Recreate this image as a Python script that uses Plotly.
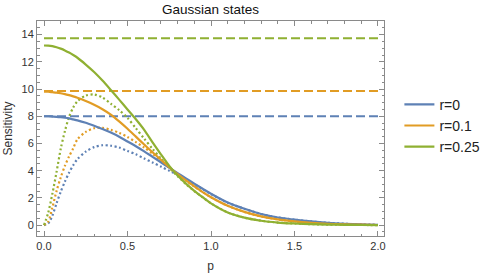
import plotly.graph_objects as go

p = [0, 0.025, 0.05, 0.075, 0.1, 0.125, 0.15, 0.175, 0.2, 0.25, 0.3, 0.35, 0.4, 0.45,
     0.5, 0.55, 0.6, 0.65, 0.7, 0.75, 0.8, 0.85, 0.9, 0.95, 1.0, 1.1, 1.2, 1.3, 1.4,
     1.5, 1.6, 1.7, 1.8, 1.9, 2.0]

solid_r0 = [8.0, 8.0, 7.98, 7.96, 7.93, 7.89, 7.84, 7.77, 7.7, 7.52, 7.3, 7.06, 6.8, 6.5,
            6.15, 5.8, 5.42, 5.02, 4.62, 4.22, 3.82, 3.43, 3.05, 2.67, 2.3, 1.66, 1.2, 0.82,
            0.56, 0.4, 0.27, 0.17, 0.1, 0.05, 0.02]
solid_r01 = [9.8, 9.8, 9.77, 9.74, 9.69, 9.63, 9.55, 9.46, 9.36, 9.12, 8.84, 8.52, 8.12, 7.62,
             7.08, 6.5, 5.92, 5.35, 4.8, 4.25, 3.75, 3.28, 2.85, 2.43, 2.05, 1.42, 0.97, 0.64,
             0.42, 0.27, 0.17, 0.1, 0.06, 0.03, 0.01]
solid_r025 = [13.2, 13.19, 13.15, 13.07, 12.97, 12.84, 12.68, 12.5, 12.3, 11.8, 11.25, 10.62,
              9.93, 9.22, 8.5, 7.78, 7.0, 6.08, 5.2, 4.35, 3.65, 3.05, 2.52, 2.05, 1.6, 0.93,
              0.55, 0.32, 0.19, 0.12, 0.07, 0.04, 0.02, 0.01, 0.0]

dotted_r0 = [0, 0.12, 0.7, 1.6, 2.45, 3.2, 3.85, 4.4, 4.85, 5.4, 5.73, 5.87, 5.83, 5.7,
             5.45, 5.2, 4.9, 4.6, 4.3, 4.0, 3.7, 3.35, 3.0, 2.64, 2.28, 1.65, 1.2, 0.82,
             0.56, 0.4, 0.27, 0.17, 0.1, 0.05, 0.02]
dotted_r01 = [0, 0.25, 1.3, 2.5, 3.5, 4.35, 5.05, 5.65, 6.3, 6.85, 7.12, 7.15, 7.0, 6.78,
              6.48, 6.1, 5.7, 5.25, 4.75, 4.22, 3.73, 3.27, 2.84, 2.43, 2.05, 1.42, 0.97,
              0.64, 0.42, 0.27, 0.17, 0.1, 0.06, 0.03, 0.01]
dotted_r025 = [0, 0.9, 2.3, 3.9, 5.6, 6.9, 7.95, 8.65, 9.1, 9.52, 9.6, 9.38, 8.92, 8.45,
               7.88, 7.12, 6.35, 5.6, 4.9, 4.22, 3.6, 3.02, 2.5, 2.04, 1.6, 0.93, 0.55,
               0.32, 0.19, 0.12, 0.07, 0.04, 0.02, 0.01, 0.0]

dashed_p = [0, 2.0]
dashed_levels = [8.0, 9.86, 13.74]

labels = ["r=0", "r=0.1", "r=0.25"]
colors = ["#5E81B5", "#E19C24", "#8FB032"]
solids = [solid_r0, solid_r01, solid_r025]
dotteds = [dotted_r0, dotted_r01, dotted_r025]

x_ticks = [0, 0.5, 1.0, 1.5, 2.0]
x_ticktext = ["0.0", "0.5", "1.0", "1.5", "2.0"]
y_ticks = [0, 2, 4, 6, 8, 10, 12, 14]

fig = go.Figure()
for i in range(3):
    fig.add_trace(go.Scatter(x=dashed_p, y=[dashed_levels[i]] * 2, mode="lines",
                             line=dict(color=colors[i], width=2, dash="9px,4px"),
                             showlegend=False, hoverinfo="skip"))
for i in range(3):
    fig.add_trace(go.Scatter(x=p, y=dotteds[i], mode="lines",
                             line=dict(color=colors[i], width=2.2, dash="2px,2.5px",
                                       shape="spline", smoothing=0.8),
                             showlegend=False, hoverinfo="skip"))
for i in range(3):
    fig.add_trace(go.Scatter(x=p, y=solids[i], mode="lines", name=labels[i],
                             line=dict(color=colors[i], width=2.2, shape="spline",
                                       smoothing=0.8)))

frame = "#8a8a8a"
fam = "Liberation Sans, Arial, sans-serif"
tickfont = dict(family=fam, size=11, color="#333333")

fig.update_layout(
    width=498, height=275,
    margin=dict(l=37, r=114, t=21, b=39),
    paper_bgcolor="white", plot_bgcolor="white",
    title=dict(text="Gaussian states", x=(37 + 384) / 2 / 498, xanchor="center",
               y=1 - 9 / 275, yanchor="middle",
               font=dict(family=fam, size=13.5, color="#111111")),
    font=dict(family=fam),
    legend=dict(xref="container", yref="container", x=0.802, y=0.543,
                xanchor="left", yanchor="middle",
                font=dict(family=fam, size=14, color="#222222"),
                bgcolor="rgba(0,0,0,0)", tracegroupgap=0),
    xaxis=dict(range=[-0.042, 2.036], tickvals=x_ticks, ticktext=x_ticktext,
               ticks="inside", ticklen=5, tickcolor=frame, tickwidth=1,
               minor=dict(ticks="inside", dtick=0.1, ticklen=2.5, tickcolor=frame),
               showline=True, linecolor=frame, linewidth=1, mirror="allticks",
               showgrid=False, zeroline=False, tickfont=tickfont, automargin=False,
               title=dict(text="p", standoff=10,
                          font=dict(family=fam, size=12, color="#333333"))),
    yaxis=dict(range=[-0.8, 15.0], tickvals=y_ticks,
               ticks="inside", ticklen=5, tickcolor=frame, tickwidth=1,
               minor=dict(ticks="inside", dtick=0.5, ticklen=2.5, tickcolor=frame),
               showline=True, linecolor=frame, linewidth=1, mirror="allticks",
               showgrid=False, zeroline=False, tickfont=tickfont, automargin=False,
               title=dict(text="Sensitivity", standoff=6,
                          font=dict(family=fam, size=12, color="#333333"))),
)

fig.write_html("out.html", config={"displayModeBar": False},
               post_script="document.body.style.margin='0';document.body.style.padding='0';")
